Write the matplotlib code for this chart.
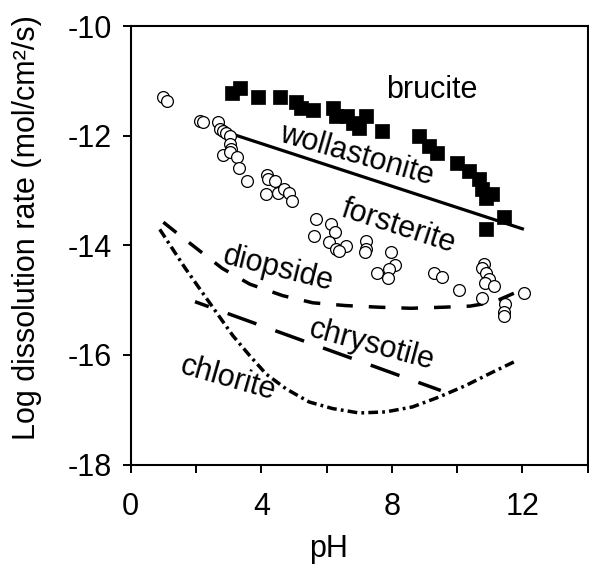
import matplotlib
matplotlib.use('Agg')
import matplotlib.pyplot as plt

plt.rcParams['font.family'] = ['Liberation Sans', 'DejaVu Sans']
plt.rcParams['lines.scale_dashes'] = False

# ---------------- data ----------------
brucite_ph = [3.09, 3.34, 3.90, 4.56, 5.05, 5.22, 5.57, 6.19, 6.29, 6.64, 6.80, 7.00,
              7.21, 7.71, 8.84, 9.14, 9.39, 10.00, 10.36, 10.67, 10.77, 11.07, 10.87,
              11.43, 10.87]
brucite_log = [-11.22, -11.13, -11.30, -11.29, -11.38, -11.50, -11.53, -11.50, -11.65,
               -11.65, -11.77, -11.86, -11.65, -11.92, -12.01, -12.19, -12.32, -12.50,
               -12.65, -12.80, -12.98, -13.07, -13.13, -13.48, -13.71]

forsterite_ph = [1.00, 1.10, 2.12, 2.22, 2.67, 2.73, 2.83, 2.93, 3.03, 3.03, 3.08, 2.83,
                 3.03, 3.26, 3.32, 3.57, 4.17, 4.20, 4.41, 4.13, 4.51, 4.71, 4.86, 4.95,
                 5.68, 5.60, 6.14, 6.27, 6.09, 6.29, 6.60, 6.37, 7.21, 7.21, 7.18, 7.97,
                 8.10, 7.92, 7.56, 7.89, 9.29, 9.55, 10.05, 10.82, 10.75, 10.87, 10.97,
                 10.85, 11.12, 10.77, 11.48, 11.43, 11.45, 12.04]
forsterite_log = [-11.29, -11.36, -11.74, -11.76, -11.76, -11.88, -11.92, -11.95, -12.01,
                  -12.16, -12.25, -12.35, -12.30, -12.39, -12.59, -12.83, -12.71, -12.80,
                  -12.83, -13.07, -13.04, -12.98, -13.04, -13.19, -13.53, -13.83, -13.62,
                  -13.76, -13.94, -14.07, -14.01, -14.10, -13.92, -14.07, -14.13, -14.13,
                  -14.36, -14.44, -14.50, -14.60, -14.51, -14.58, -14.82, -14.35, -14.41,
                  -14.50, -14.62, -14.69, -14.74, -14.97, -15.07, -15.22, -15.29, -14.88]

wollastonite_ph = [3.0, 12.0]
wollastonite_log = [-11.95, -13.70]

diopside_ph = [1.0, 1.4, 2.0, 2.8, 3.65, 4.66, 5.58, 6.57, 7.59, 8.58, 9.60, 10.4,
               10.8, 11.3, 11.8]
diopside_log = [-13.58, -13.77, -14.05, -14.42, -14.71, -14.92, -15.05, -15.10, -15.13,
                -15.15, -15.13, -15.11, -15.07, -14.99, -14.86]

chrysotile_ph = [1.97, 9.50]
chrysotile_log = [-15.03, -16.65]

chlorite_ph = [0.89, 1.66, 2.37, 3.13, 3.64, 4.15, 4.76, 5.47, 6.19, 7.00, 7.82, 8.63,
               9.44, 10.26, 11.07, 11.84]
chlorite_log = [-13.71, -14.41, -15.01, -15.65, -16.01, -16.35, -16.62, -16.86, -16.98,
                -17.06, -17.04, -16.95, -16.77, -16.56, -16.32, -16.10]

labels = ['brucite', 'wollastonite', 'forsterite', 'diopside', 'chrysotile', 'chlorite']
label_ph = [9.23, 6.92, 8.19, 4.53, 7.38, 2.98]
label_log = [-11.16, -12.36, -13.66, -14.44, -15.83, -16.44]
label_rot = [0, -16, -18, -14, -15, -16]

xticks = [0, 2, 4, 6, 8, 10, 12, 14]
xticklabels = ['0', '', '4', '', '8', '', '12', '']
yticks = [-18, -16, -14, -12, -10]
yticklabels = ['-18', '-16', '-14', '-12', '-10']

# ---------------- figure ----------------
W, H = 589, 564
fig = plt.figure(figsize=(W / 100, H / 100), dpi=100)
L, R, T, B = 130.7, 587.7, 26.0, 464.5
ax = fig.add_axes([L / W, 1 - B / H, (R - L) / W, (B - T) / H])

FS = 22
lw_line = 2.5
ax.plot(wollastonite_ph, wollastonite_log, color='black', lw=2.3, zorder=2)
ax.plot(diopside_ph, diopside_log, color='black', lw=lw_line, zorder=2,
        linestyle=(0, (12.0, 11.5)))
ax.plot(chrysotile_ph, chrysotile_log, color='black', lw=lw_line, zorder=2,
        linestyle=(11.5, (22.0, 14.5)))
ax.plot(chlorite_ph, chlorite_log, color='black', lw=lw_line, zorder=2,
        linestyle=(0, (7.0, 3.0, 2.0, 3.0)))

ax.scatter(forsterite_ph, forsterite_log, s=8.5 ** 2, marker='o', facecolor='white',
           edgecolor='black', linewidths=0.9, zorder=3)
ax.scatter(brucite_ph, brucite_log, s=9.5 ** 2, marker='s', facecolor='black',
           edgecolor='black', linewidths=0.5, zorder=3)

for t, x, y, r in zip(labels, label_ph, label_log, label_rot):
    ax.text(x, y, t, fontsize=FS, rotation=r, rotation_mode='anchor',
            ha='center', va='center', zorder=4)

ax.set_xlim(0, 14)
ax.set_ylim(-18, -10)
ax.set_xticks(xticks)
ax.set_xticklabels(xticklabels)
ax.set_yticks(yticks)
ax.set_yticklabels(yticklabels)
ax.tick_params(direction='out', length=5.5, width=1.4, labelsize=FS, colors='black')
ax.tick_params(axis='x', pad=14)
ax.tick_params(axis='y', pad=8)
for s in ax.spines.values():
    s.set_linewidth(1.5)

fig.text(329 / W, 1 - 549 / H, 'pH', fontsize=FS, ha='center', va='center')
fig.text(27 / W, 1 - 228 / H, 'Log dissolution rate (mol/cm\u00b2/s)', fontsize=FS,
         rotation=90, ha='center', va='center')

fig.savefig('out.png', dpi=100)
